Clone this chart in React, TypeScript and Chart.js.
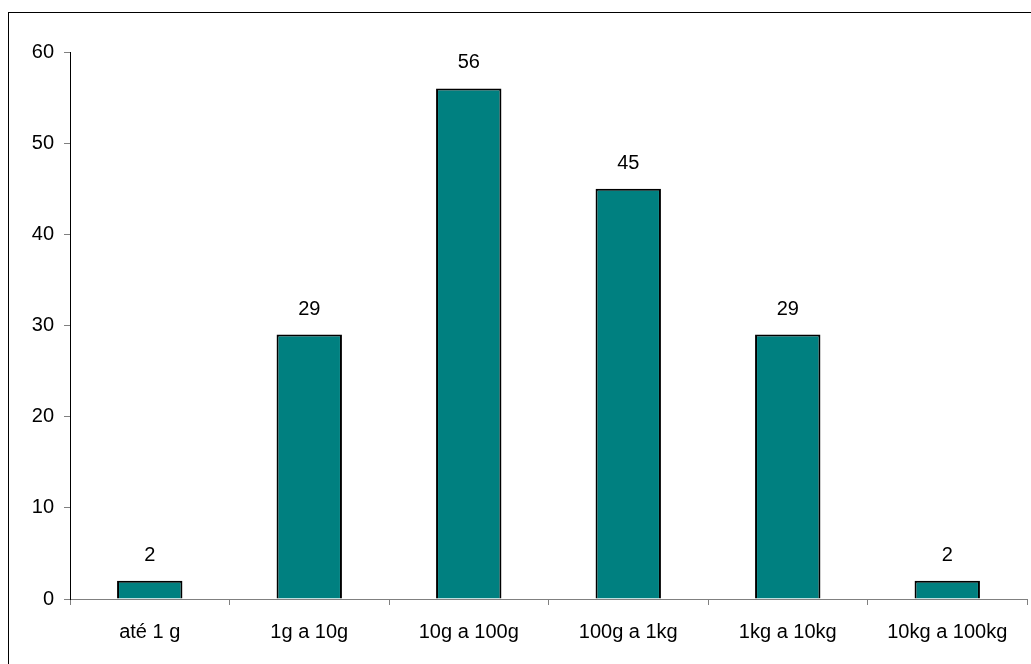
import React, { useEffect, useRef } from "react";
import { Chart, registerables } from "chart.js";

Chart.register(...registerables);

const categories = ["até 1 g", "1g a 10g", "10g a 100g", "100g a 1kg", "1kg a 10kg", "10kg a 100kg"];
const values = [2, 29, 56, 45, 29, 2];
const yTicks = [0, 10, 20, 30, 40, 50, 60];

const FONT = "'Liberation Sans', Arial, sans-serif";

const valueLabels = {
  id: "valueLabels",
  afterDatasetsDraw(chart: any) {
    const ctx = chart.ctx;
    const meta = chart.getDatasetMeta(0);
    ctx.save();
    ctx.font = `20px ${FONT}`;
    ctx.fillStyle = "#000";
    ctx.textAlign = "center";
    ctx.textBaseline = "alphabetic";
    meta.data.forEach((el: any, i: number) => {
      ctx.fillText(String(values[i]), el.x, el.y - 20);
    });
    ctx.restore();
  },
};

export default function App() {
  const ref = useRef<HTMLCanvasElement | null>(null);
  useEffect(() => {
    document.body.style.margin = "0";
    document.body.style.overflow = "hidden";
    const chart = new Chart(ref.current!, {
      type: "bar",
      data: {
        labels: categories,
        datasets: [
          {
            data: values,
            backgroundColor: "#008080",
            borderColor: "#000",
            borderWidth: 2,
            categoryPercentage: 1,
            barPercentage: 0.41,
          },
        ],
      },
      options: {
        animation: false,
        responsive: false,
        devicePixelRatio: 1,
        layout: { padding: { left: 0, top: 39, right: 4, bottom: 0 } },
        plugins: { legend: { display: false }, tooltip: { enabled: false } },
        scales: {
          x: {
            grid: { offset: true, drawOnChartArea: false, tickLength: 6, color: "#808080" },
            border: { color: "#808080", width: 1 },
            ticks: { font: { family: FONT, size: 20 }, color: "#000", padding: 15, maxRotation: 0 },
            afterFit: (s: any) => { s.height = 65; },
          },
          y: {
            min: 0,
            max: 60,
            afterBuildTicks: (s: any) => { s.ticks = yTicks.map((v) => ({ value: v })); },
            grid: { drawOnChartArea: false, tickLength: 6, color: "#808080" },
            border: { color: "#000", width: 1 },
            ticks: { font: { family: FONT, size: 20 }, color: "#000", padding: 10 },
            afterFit: (s: any) => { s.width = 61; },
          },
        },
      },
      plugins: [valueLabels],
    });
    return () => chart.destroy();
  }, []);
  return (
    <div
      style={{
        position: "absolute",
        left: 8,
        top: 12,
        width: 1023,
        height: 652,
        borderLeft: "1px solid #000",
        borderTop: "1px solid #000",
        boxSizing: "border-box",
        background: "#fff",
      }}
    >
      <canvas ref={ref} width={1022} height={651} style={{ display: "block" }} />
    </div>
  );
}
